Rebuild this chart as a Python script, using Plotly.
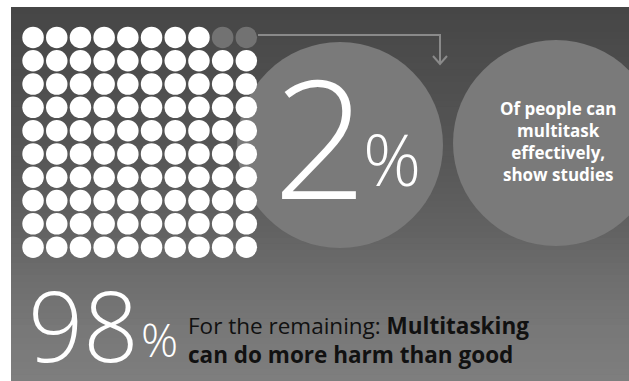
import plotly.graph_objects as go

# ---- data ----
total_people = 100
effective_share = 2          # % who can multitask effectively
remaining_share = 98         # % for whom multitasking harms
grid_cols = 10
grid_rows = 10
big_label = "2"
big_label_unit = "%"
side_text = ["Of people can", "multitask", "effectively,", "show studies"]
bottom_value = "98"
bottom_unit = "%"
bottom_text_line1_regular = "For the remaining: "
bottom_text_line1_bold = "Multitasking"
bottom_text_line2 = "can do more harm than good"

W, H = 629, 381

# ---- dot grid (waffle) ----
# highlighted dots are the last `effective_share` dots of the top row
xs_white, ys_white, xs_hi, ys_hi = [], [], [], []
for i in range(total_people):
    r, c = divmod(i, grid_cols)
    if r == 0 and c >= grid_cols - effective_share:
        xs_hi.append(c + 0.5); ys_hi.append(r + 0.5)
    else:
        xs_white.append(c + 0.5); ys_white.append(r + 0.5)

fig = go.Figure()

fig.add_trace(go.Scatter(x=xs_white, y=ys_white, mode="markers",
                         marker=dict(size=21.5, color="#ffffff", line=dict(width=0)),
                         xaxis="x2", yaxis="y2", hoverinfo="skip", showlegend=False))
fig.add_trace(go.Scatter(x=xs_hi, y=ys_hi, mode="markers",
                         marker=dict(size=21.5, color="#727272", line=dict(width=0)),
                         xaxis="x2", yaxis="y2", hoverinfo="skip", showlegend=False))

# ---- background gradient ----
shapes = []
shapes.append(dict(type="rect", xref="paper", yref="paper", x0=0, x1=1, y0=0, y1=1,
                   fillcolor="#ffffff", line=dict(width=0), layer="below"))
stops = [(7, 70), (60, 76), (150, 86), (230, 98), (280, 110), (330, 120), (381, 126)]
def shade(y):
    for (y0, v0), (y1, v1) in zip(stops[:-1], stops[1:]):
        if y0 <= y <= y1:
            t = (y - y0) / (y1 - y0)
            return v0 + t * (v1 - v0)
    return stops[-1][1]
n = 60
top = 7
step = (H - top) / n
for k in range(n):
    y0 = top + k * step
    v = int(round(shade(y0 + step / 2)))
    shapes.append(dict(type="rect", xref="x", yref="y", x0=11, x1=W + 2, y0=y0, y1=y0 + step + 1.5,
                       fillcolor=f"rgb({v},{v},{v})", line=dict(width=0), layer="below"))

circle_color = "#7a7a7a"
# big circles
shapes.append(dict(type="circle", xref="x", yref="y", x0=237, x1=443, y0=42, y1=248,
                   fillcolor=circle_color, line=dict(width=0), layer="below"))
shapes.append(dict(type="circle", xref="x", yref="y", x0=453, x1=659, y0=40, y1=246,
                   fillcolor=circle_color, line=dict(width=0), layer="below"))
# arrow connector
shapes.append(dict(type="path", xref="x", yref="y", path="M 258 35 L 440 35 L 440 63",
                   line=dict(color="#8a8a8a", width=2)))
shapes.append(dict(type="path", xref="x", yref="y", path="M 433 56 L 440 64 L 447 56",
                   line=dict(color="#8a8a8a", width=2)))

annotations = []
annotations.append(dict(x=320, y=135, xref="x", yref="y", text=big_label, showarrow=False,
                        font=dict(family="Open Sans", size=165, color="#ffffff", weight=300),
                        xanchor="center", yanchor="middle"))
annotations.append(dict(x=392, y=158, xref="x", yref="y", text=big_label_unit, showarrow=False,
                        font=dict(family="Open Sans", size=72, color="#ffffff", weight=300),
                        xanchor="center", yanchor="middle"))
annotations.append(dict(x=558, y=141, xref="x", yref="y", text="<br>".join(side_text),
                        showarrow=False, align="center",
                        font=dict(family="Open Sans", size=17, color="#ffffff", weight=700),
                        xanchor="center", yanchor="middle"))
annotations.append(dict(x=83, y=324, xref="x", yref="y", text=bottom_value, showarrow=False,
                        height=90, valign="middle",
                        font=dict(family="Open Sans", size=97, color="#ffffff", weight=300),
                        xanchor="center", yanchor="middle"))
annotations.append(dict(x=159, y=339, xref="x", yref="y", text=bottom_unit, showarrow=False,
                        font=dict(family="Open Sans", size=46, color="#ffffff", weight=300),
                        xanchor="center", yanchor="middle"))
annotations.append(dict(x=186, y=340, xref="x", yref="y",
                        text=bottom_text_line1_regular + "<b>" + bottom_text_line1_bold + "</b><br><b>"
                        + bottom_text_line2 + "</b>",
                        showarrow=False, align="left",
                        font=dict(family="Open Sans", size=22.5, color="#111111"),
                        xanchor="left", yanchor="middle"))

fig.update_layout(
    width=W, height=H, margin=dict(l=0, r=0, t=0, b=0),
    paper_bgcolor="#ffffff", plot_bgcolor="rgba(0,0,0,0)",
    xaxis=dict(range=[0, W], visible=False, showgrid=False, zeroline=False, domain=[0, 1], fixedrange=True),
    yaxis=dict(range=[H, 0], visible=False, showgrid=False, zeroline=False, domain=[0, 1], fixedrange=True),
    xaxis2=dict(range=[0, grid_cols], visible=False, showgrid=False, zeroline=False,
                domain=[21.2 / W, 258.2 / W], anchor="y2", fixedrange=True),
    yaxis2=dict(range=[grid_rows, 0], visible=False, showgrid=False, zeroline=False,
                domain=[1 - 258.8 / H, 1 - 25.8 / H], anchor="x2", fixedrange=True),
    shapes=shapes, annotations=annotations, showlegend=False,
)

fig.write_html("out.html")
